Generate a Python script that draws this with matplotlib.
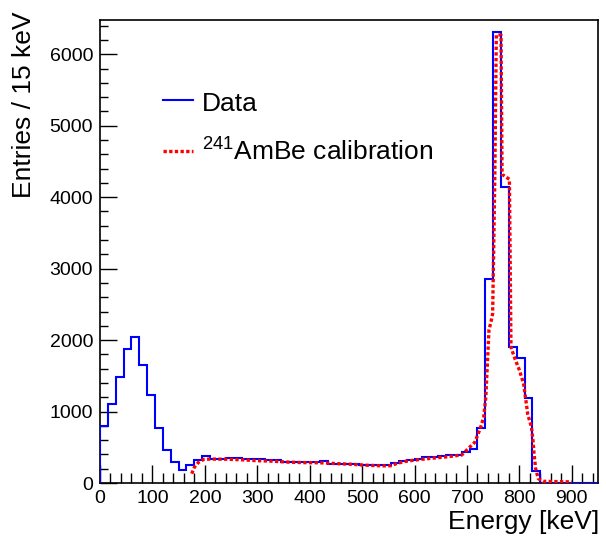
import numpy as np
import matplotlib
matplotlib.use("Agg")
import matplotlib.pyplot as plt
from matplotlib.ticker import MultipleLocator

plt.rcParams['font.family'] = ['Liberation Sans', 'DejaVu Sans']
plt.rcParams['mathtext.fontset'] = 'custom'
plt.rcParams['mathtext.rm'] = 'Liberation Sans'
plt.rcParams['mathtext.it'] = 'Liberation Sans'
plt.rcParams['mathtext.bf'] = 'Liberation Sans'

# ---- data ----
bin_width = 15
data_counts = [800, 1100, 1490, 1880, 2050, 1650, 1225, 775, 455, 294,
               185, 245, 320, 380, 340, 342, 345, 345, 342, 335,
               330, 325, 318, 300, 298, 295, 296, 294, 304, 272,
               272, 270, 262, 258, 250, 248, 248, 285, 305, 318,
               340, 362, 362, 372, 385, 390, 435, 480, 770, 2850,
               6310, 4140, 1905, 1755, 1190, 170,
               0, 0, 0, 0, 0, 0, 0, 0]
edges = np.arange(len(data_counts) + 1) * bin_width

calib_energy = [175, 180, 188, 198, 210, 240, 270, 300, 330, 360, 390, 420, 450,
                480, 510, 540, 555, 565, 580, 600, 630, 660, 690, 705, 715, 722,
                727, 732, 736, 739, 742, 746, 749, 751, 753, 756, 765, 767, 781,
                784, 790, 800, 808, 812, 816, 823, 826, 828, 831, 836, 845, 870, 900]
calib_counts = [130, 220, 290, 330, 335, 333, 325, 312, 305, 292, 285, 283, 272,
                262, 248, 240, 242, 270, 300, 320, 345, 365, 392, 500, 570, 700,
                800, 925, 1200, 1670, 2140, 2260, 2370, 3260, 4200, 6270, 6270, 4320, 4250,
                1900, 1770, 1580, 1390, 1180, 960, 784, 598, 411, 202, 62, 24, 20, 15]

x_label = "Energy [keV]"
y_label = "Entries / 15 keV"
legend_labels = ["Data", r"$\mathregular{^{241}}$AmBe calibration"]

# ---- figure ----
W, H = 606, 541
fig = plt.figure(figsize=(W / 100, H / 100), dpi=100)
ax = fig.add_axes([100 / W, 1 - 483 / H, 498 / W, 463 / H])

ax.stairs(data_counts, edges, color='#0000ff', linewidth=1.5, zorder=3)
ax.plot(calib_energy, calib_counts, color='#ff0000', linewidth=2.4,
        linestyle=(0, (1.0, 0.7)), zorder=4)

ax.set_xlim(0, 950)
ax.set_ylim(0, 6480)

ax.xaxis.set_major_locator(MultipleLocator(100))
ax.xaxis.set_minor_locator(MultipleLocator(20))
ax.yaxis.set_major_locator(MultipleLocator(1000))
ax.yaxis.set_minor_locator(MultipleLocator(200))
ax.tick_params(which='both', direction='in', top=False, right=False,
               labelsize=14, width=1, color='black')
ax.tick_params(which='major', axis='x', length=13, pad=5)
ax.tick_params(which='minor', axis='x', length=7)
ax.tick_params(which='major', axis='y', length=12, pad=5)
ax.tick_params(which='minor', axis='y', length=6)
for s in ax.spines.values():
    s.set_linewidth(1.2)

fig.text(24 / W, 1 - 12 / H, y_label, rotation=90, ha='center', va='top', fontsize=19)
fig.text(599 / W, 1 - 510 / H, x_label, ha='right', va='top', fontsize=19)

# legend (no frame)
fig.add_artist(plt.Line2D([163 / W, 193 / W], [1 - 100 / H, 1 - 100 / H],
                          color='#0000ff', linewidth=1.5))
fig.add_artist(plt.Line2D([163 / W, 193 / W], [1 - 151 / H, 1 - 151 / H],
                          color='#ff0000', linewidth=2.4, linestyle=(0, (1.0, 0.7))))
fig.text(202 / W, 1 - 111 / H, legend_labels[0], ha='left', va='baseline', fontsize=19)
fig.text(202 / W, 1 - 161 / H, legend_labels[1], ha='left', va='baseline', fontsize=19)

fig.savefig("out.png", dpi=100)
